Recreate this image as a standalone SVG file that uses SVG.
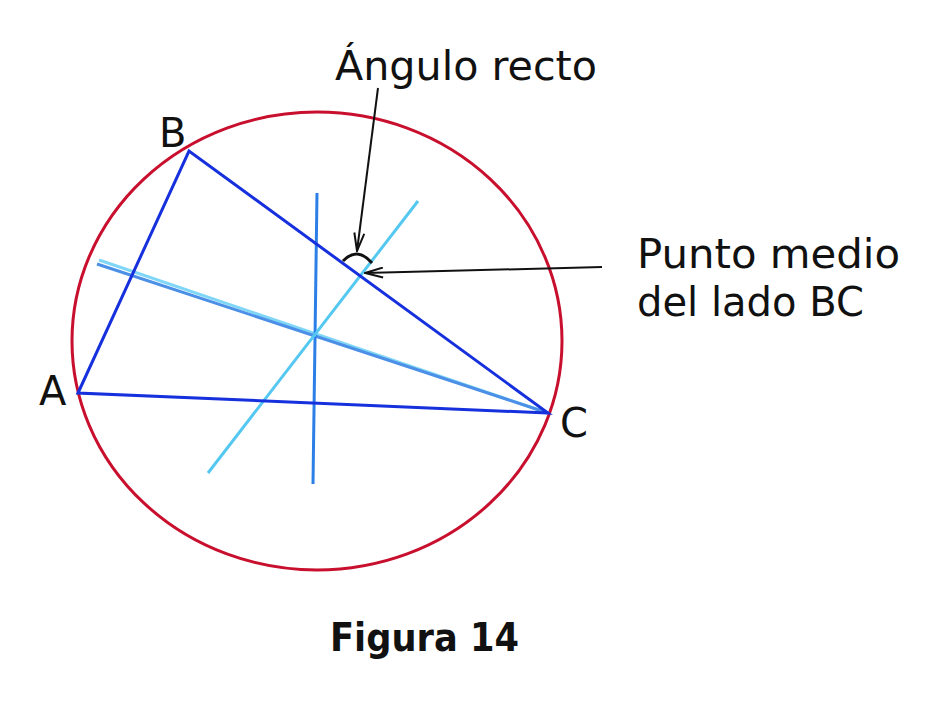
<svg xmlns="http://www.w3.org/2000/svg" width="950" height="702" viewBox="0 0 950 702">
<style>
.lbl{font-family:"DejaVu Sans","Noto Sans",sans-serif;font-size:40px;fill:#111}
.ttl{font-family:"DejaVu Sans","Noto Sans",sans-serif;font-size:39px;font-weight:bold;fill:#111}
.arr{stroke:#111;stroke-width:2;fill:none}
</style>
<defs>
<marker id="ah" viewBox="0 0 20 12" refX="19" refY="6" markerWidth="20" markerHeight="12" markerUnits="userSpaceOnUse" orient="auto">
<path d="M1,1 L19,6 L1,11" fill="none" stroke="#111" stroke-width="2"/>
</marker>
</defs>
<rect width="950" height="702" fill="#fff"/>
<g id="circle"><ellipse cx="317" cy="341" rx="245" ry="229" fill="none" stroke="#c8102e" stroke-width="3"/></g>
<g id="connectors">
<line x1="99" y1="260" x2="548" y2="413" stroke="#7fd6f7" stroke-width="3"/>
<line x1="97" y1="264" x2="548" y2="413" stroke="#4b8fe6" stroke-width="3"/>
<line x1="317" y1="193" x2="313" y2="484" stroke="#2c7fe6" stroke-width="3"/>
<line x1="418" y1="201" x2="208" y2="473" stroke="#55c8f2" stroke-width="3"/>
<polygon id="triangle" points="78,393 189,151 548,413" fill="none" stroke="#1530dc" stroke-width="3" stroke-linejoin="miter"/>
<path d="M343,261 Q357,246 372,263" fill="none" stroke="#111" stroke-width="3"/>
<line class="arr" x1="378" y1="88" x2="357" y2="251" marker-end="url(#ah)"/>
<line class="arr" x1="602" y1="267" x2="365" y2="273" marker-end="url(#ah)"/>
</g>
<g id="labelA"><text class="lbl" x="39" y="405">A</text></g>
<g id="labelB"><text class="lbl" x="159" y="147">B</text></g>
<g id="labelC"><text class="lbl" x="560" y="437">C</text></g>
<g id="angle"><text class="lbl" x="335" y="80" textLength="262" lengthAdjust="spacingAndGlyphs">Ángulo recto</text></g>
<g id="midpoint"><text class="lbl" x="637" y="268" textLength="263" lengthAdjust="spacingAndGlyphs">Punto medio</text><text class="lbl" x="637" y="316" textLength="227" lengthAdjust="spacingAndGlyphs">del lado BC</text></g>
<g id="title"><text class="ttl" x="330" y="651" textLength="189" lengthAdjust="spacingAndGlyphs">Figura 14</text></g>
</svg>
